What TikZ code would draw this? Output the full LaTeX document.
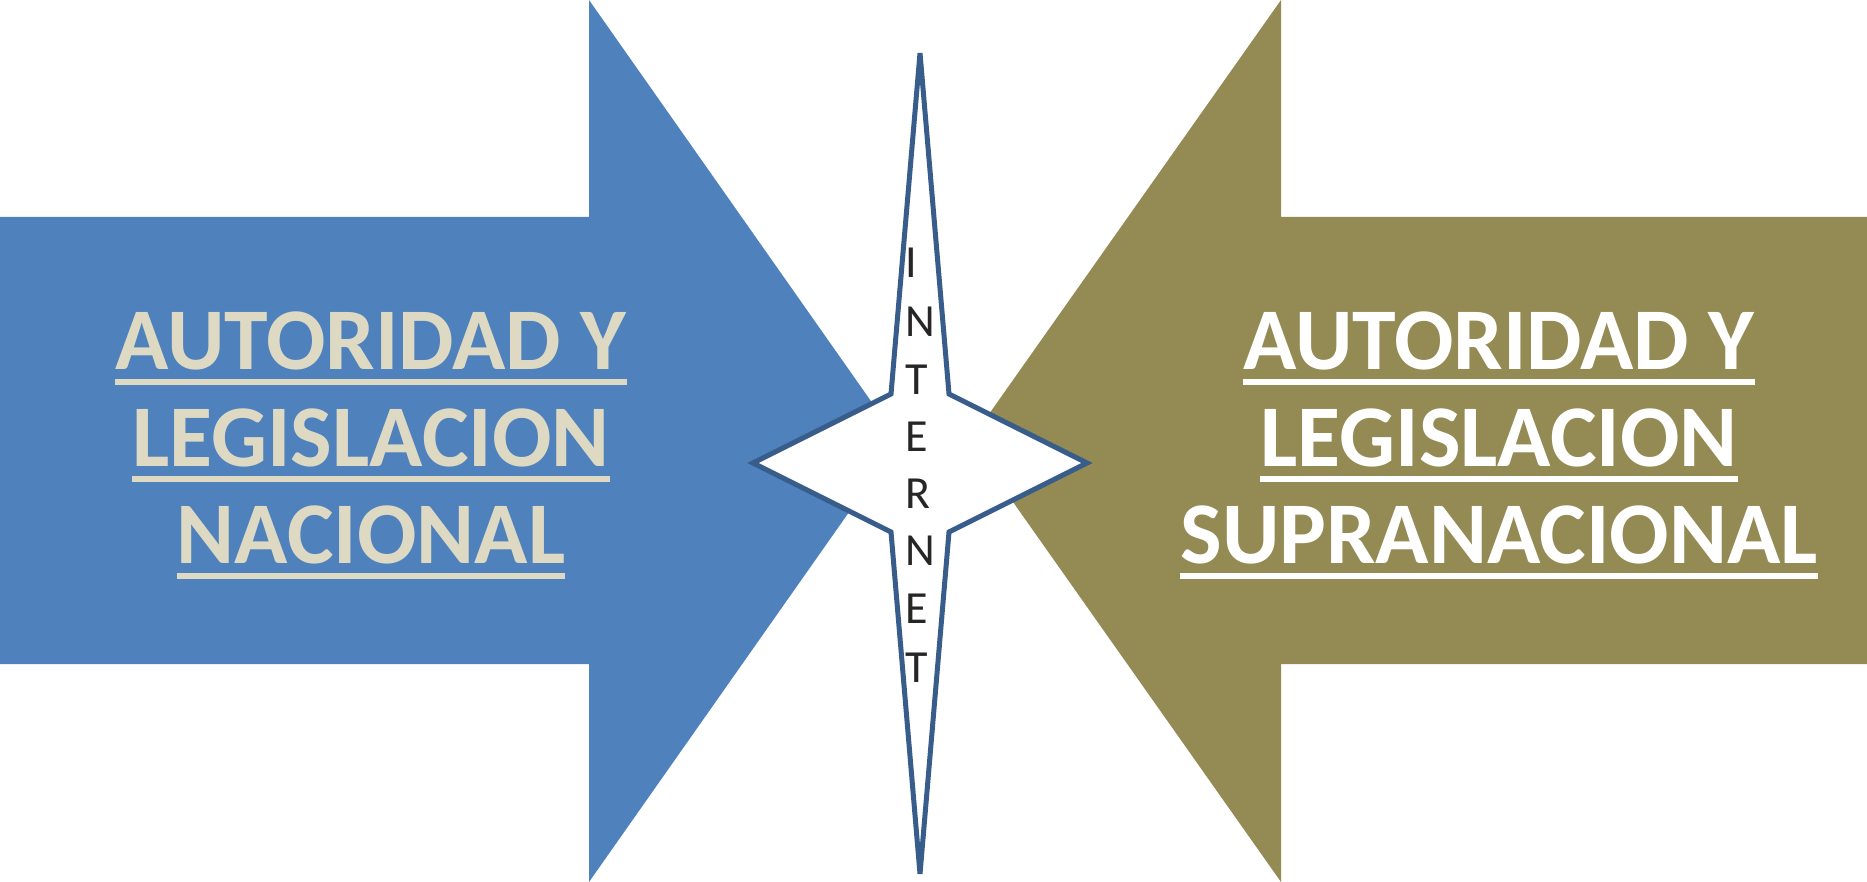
\documentclass[tikz,border=0pt]{standalone}
\usepackage{fontspec}
\setmainfont{Carlito}
\usetikzlibrary{calc}
\definecolor{arrowblue}{HTML}{4F81BD}
\definecolor{arrowolive}{HTML}{948A54}
\definecolor{beige}{HTML}{DDD9C3}
\definecolor{starline}{HTML}{385D8A}
\definecolor{lettergray}{HTML}{262626}
\begin{document}
\begin{tikzpicture}[x=1pt,y=-1pt,
  bigtext/.style={font=\fontsize{88}{96}\selectfont\bfseries, inner sep=0pt, anchor=base},
  uline/.style={line width=6pt, draw=#1},
  letter/.style={font=\fontsize{46}{50}\selectfont, text=lettergray, inner sep=0pt, anchor=base west},
  startrace/.style={draw=starline, line width=5pt, fill=white, line join=miter}]
\useasboundingbox (0,0) rectangle (1867,882);
% arrows
\fill[arrowblue] (0,217) -- (589,217) -- (589,0) -- (899,441) -- (589,882) -- (589,664) -- (0,664) -- cycle;
\fill[arrowolive] (1867,217) -- (1281,217) -- (1281,0) -- (970,441) -- (1281,882) -- (1281,664) -- (1867,664) -- cycle;
% star
\draw[startrace] (920,53) -- (949,394) -- (1087,463) -- (949,532) -- (920,874) -- (891,532) -- (753,463) -- (891,394) -- cycle;
% left text
\node[bigtext, text=beige] (L1) at (371,369) {AUTORIDAD Y};
\node[bigtext, text=beige] (L2) at (371,466) {LEGISLACION};
\node[bigtext, text=beige] (L3) at (371,563) {NACIONAL};
\foreach \n in {L1,L2,L3}
  \draw[uline=beige] ($(\n.base west)+(0,13)$) -- ($(\n.base east)+(0,13)$);
% right text
\node[bigtext, text=white] (R1) at (1499,369) {AUTORIDAD Y};
\node[bigtext, text=white] (R2) at (1499,466) {LEGISLACION};
\node[bigtext, text=white] (R3) at (1499,563) {SUPRANACIONAL};
\foreach \n in {R1,R2,R3}
  \draw[uline=white] ($(\n.base west)+(0,13)$) -- ($(\n.base east)+(0,13)$);
% vertical word
\node[letter] (c1) at (905,278) {I};
\node[letter] (c2) at (905,336) {N};
\node[letter] (c3) at (905,394) {T};
\node[letter] (c4) at (905,451) {E};
\node[letter] (c5) at (905,508) {R};
\node[letter] (c6) at (905,565) {N};
\node[letter] (c7) at (905,623) {E};
\node[letter] (c8) at (905,682) {T};
\end{tikzpicture}
\end{document}
